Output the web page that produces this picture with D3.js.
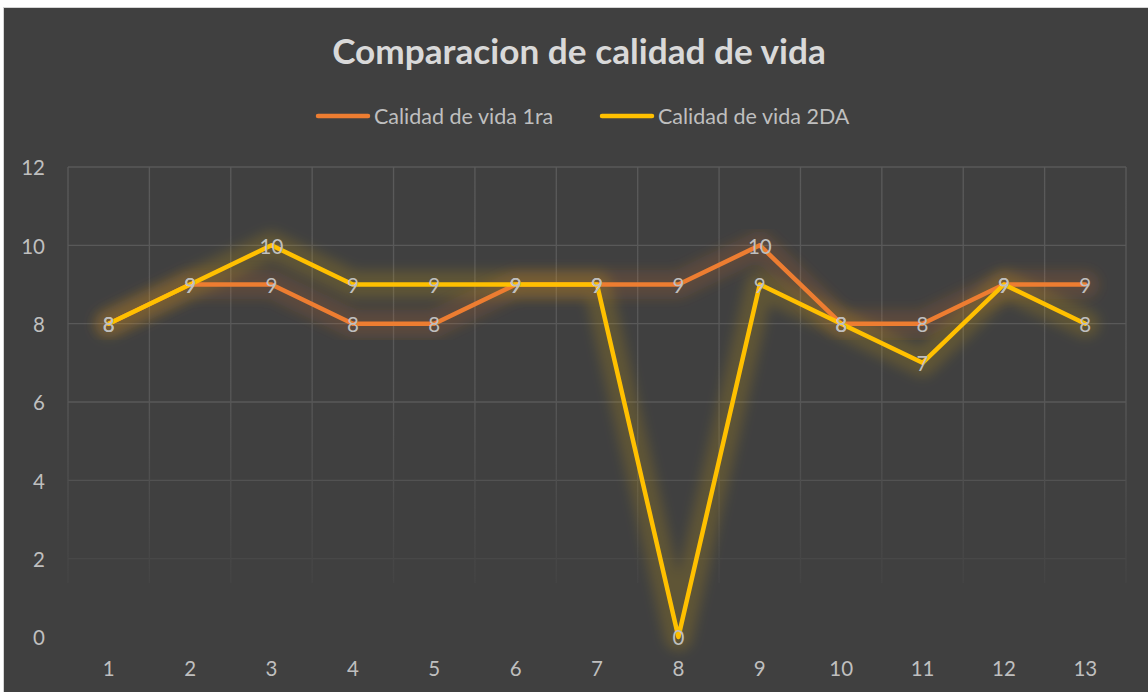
<!DOCTYPE html>
<html><head><meta charset="utf-8">
<script src="https://cdn.jsdelivr.net/npm/d3@7"></script>
<style>html,body{margin:0;padding:0;background:#fff;overflow:hidden}</style>
</head><body>
<svg id="c" width="1148" height="692"></svg>
<script>
const categories = ["1","2","3","4","5","6","7","8","9","10","11","12","13"];
const serie1 = [8,9,9,8,8,9,9,9,10,8,8,9,9];
const serie2 = [8,9,10,9,9,9,9,0,9,8,7,9,8];
const seriesNames = ["Calidad de vida 1ra","Calidad de vida 2DA"];
const yTicks = [0,2,4,6,8,10,12];
const title = "Comparacion de calidad de vida";

(function(){
const svg = d3.select("#c");
const W = 1148, H = 692;
const font = "Lato, 'Open Sans', sans-serif";
const colors = ["#ED7D31","#FFC000"];
const textCol = "#bfbfbf";

svg.append("rect").attr("x",0).attr("y",0).attr("width",W).attr("height",H).attr("fill","#ffffff");
svg.append("rect").attr("x",3).attr("y",7).attr("width",W-3).attr("height",H-7).attr("fill","#d4d4d4");
svg.append("rect").attr("x",4).attr("y",8).attr("width",W-4).attr("height",H-8).attr("fill","#404040");

const defs = svg.append("defs");
const f = defs.append("filter").attr("id","glow").attr("x","-20%").attr("y","-20%").attr("width","140%").attr("height","140%");
f.append("feGaussianBlur").attr("stdDeviation",6);
const vg = defs.append("linearGradient").attr("id","vgrad").attr("x1",0).attr("y1",0).attr("x2",0).attr("y2",1).attr("gradientUnits","objectBoundingBox");
vg.append("stop").attr("offset","0%").attr("stop-color","#5a5a5a");
vg.append("stop").attr("offset","55%").attr("stop-color","#575757");
vg.append("stop").attr("offset","100%").attr("stop-color","#444444");

const pl = 68, pr = 1126, pt = 167, pb = 637;
const x = d3.scaleBand().domain(categories).range([pl,pr]);
const y = d3.scaleLinear().domain([0,12]).range([pb,pt]);

// horizontal gridlines
const hcol = v => v>=6 ? "#595959" : (v===4 ? "#525252" : (v===2 ? "#484848" : "none"));
svg.append("g").selectAll("line").data(yTicks).join("line")
  .attr("x1",pl).attr("x2",pr).attr("y1",d=>y(d)).attr("y2",d=>y(d))
  .attr("stroke",d=>hcol(d)).attr("stroke-width",1.3);
// vertical gridlines
const vEdges = categories.map(c=>x(c)).concat([pr]);
svg.append("g").selectAll("rect").data(vEdges).join("rect")
  .attr("x",d=>d-0.65).attr("width",1.3).attr("y",pt).attr("height",583-pt)
  .attr("fill","url(#vgrad)");

const fs = 20.5;
// y axis labels
svg.append("g").selectAll("text").data(yTicks).join("text")
  .attr("x",45).attr("y",d=>y(d)+1).attr("dy","0.36em").attr("text-anchor","end")
  .attr("fill",textCol).attr("font-family",font).attr("font-size",fs).text(d=>d);
// x axis labels
svg.append("g").selectAll("text").data(categories).join("text")
  .attr("x",d=>x(d)+x.bandwidth()/2).attr("y",669).attr("dy","0.36em").attr("text-anchor","middle")
  .attr("fill",textCol).attr("font-family",font).attr("font-size",fs).text(d=>d);

const line = d3.line().x((d,i)=>x(categories[i])+x.bandwidth()/2).y(d=>y(d));
const data = [serie1, serie2];
data.forEach((s,k)=>{
  svg.append("path").datum(s).attr("d",line).attr("fill","none")
    .attr("stroke",colors[k]).attr("stroke-width",28).attr("stroke-opacity",0.16)
    .attr("stroke-linejoin","round").attr("stroke-linecap","round").attr("filter","url(#glow)");
});
data.forEach((s,k)=>{
  svg.append("path").datum(s).attr("d",line).attr("fill","none")
    .attr("stroke",colors[k]).attr("stroke-width",4.5).attr("stroke-linejoin","round").attr("stroke-linecap","round");
});
data.forEach((s,k)=>{
  svg.append("g").selectAll("text").data(s).join("text")
    .attr("x",(d,i)=>x(categories[i])+x.bandwidth()/2).attr("y",d=>y(d)+1).attr("dy","0.36em")
    .attr("text-anchor","middle").attr("fill",textCol).attr("font-family",font).attr("font-size",fs).text(d=>d);
});

// title
svg.append("text").attr("x",579).attr("y",51).attr("dy","0.36em").attr("text-anchor","middle")
  .attr("fill","#d9d9d9").attr("font-family",font).attr("font-weight","bold").attr("font-size",35.2).text(title);

// legend
const leg = [{x:316,name:seriesNames[0]},{x:600,name:seriesNames[1]}];
leg.forEach((l,k)=>{
  svg.append("line").attr("x1",l.x+2).attr("x2",l.x+52).attr("y1",116).attr("y2",116)
    .attr("stroke",colors[k]).attr("stroke-width",4.5).attr("stroke-linecap","round");
  svg.append("text").attr("x",l.x+58).attr("y",116).attr("dy","0.36em")
    .attr("fill",textCol).attr("font-family",font).attr("font-size",21.5).text(l.name);
});
})();
</script>
</body></html>
